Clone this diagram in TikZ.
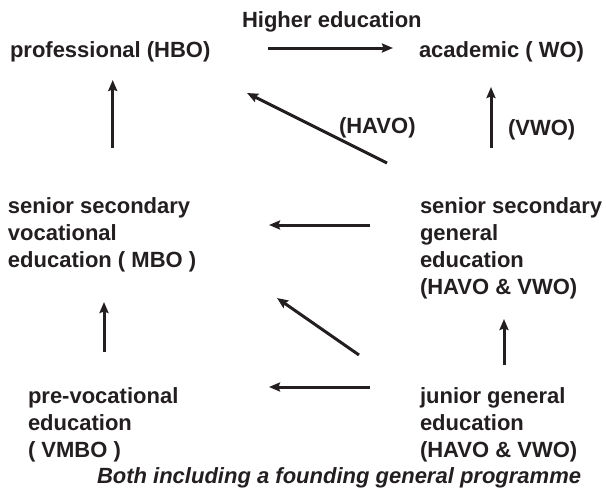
\documentclass[tikz,border=0pt]{standalone}
\usepackage{fontspec}
\setmainfont{Liberation Sans}
\usetikzlibrary{arrows.meta}
\definecolor{ink}{RGB}{35,31,32}
\newcommand{\stack}[1]{\vtop{\baselineskip=27pt\lineskiplimit=-20pt\halign{##\hfil\cr#1\crcr}}}
\tikzset{
  lbl/.style={anchor=base west, inner sep=0pt, outer sep=0pt, text=ink,
    font=\fontsize{22}{27}\selectfont\bfseries},
  arr/.style={draw=ink, line width=3pt,
    -{Stealth[length=11pt,width=9pt,inset=1.5pt]}},
}
\begin{document}
\begin{tikzpicture}[x=1pt,y=-1pt]
\useasboundingbox (0,0) rectangle (606,488);
% labels
\node[lbl] (higher) at (242,27) {Higher education};
\node[lbl] (hbo) at (10,57) {professional (HBO)};
\node[lbl] (wo) at (419,57) {academic ( WO)};
\node[lbl] (havo) at (339,133) {(HAVO)};
\node[lbl] (vwo) at (508,135) {(VWO)};
\node[lbl] (mbo) at (8,213) {\stack{senior secondary\cr vocational\cr education ( MBO )}};
\node[lbl] (ssge) at (420,213) {\stack{senior secondary\cr general\cr education\cr (HAVO \& VWO)}};
\node[lbl] (vmbo) at (28,403) {\stack{pre-vocational\cr education\cr ( VMBO )}};
\node[lbl] (jge) at (420,403) {\stack{junior general\cr education\cr (HAVO \& VWO)}};
\node[lbl, font=\fontsize{22}{27}\selectfont\bfseries\itshape] (foot) at (97,483) {Both including a founding general programme};
% connector end points
\coordinate (a1s) at (268,48);  \coordinate (a1e) at (393,48);
\coordinate (a2s) at (112.7,148); \coordinate (a2e) at (112.7,80);
\coordinate (a3s) at (491,148); \coordinate (a3e) at (491,87);
\coordinate (a4s) at (387,163); \coordinate (a4e) at (247,93);
\coordinate (a5s) at (370,225); \coordinate (a5e) at (269,225);
\coordinate (a6s) at (104,352); \coordinate (a6e) at (104,302);
\coordinate (a7s) at (359,355); \coordinate (a7e) at (277,298);
\coordinate (a8s) at (504,365); \coordinate (a8e) at (504,319);
\coordinate (a9s) at (370,387); \coordinate (a9e) at (269,387);
% connectors
\draw[arr] (a1s) -- (a1e);
\draw[arr] (a2s) -- (a2e);
\draw[arr] (a3s) -- (a3e);
\draw[arr] (a4s) -- (a4e);
\draw[arr] (a5s) -- (a5e);
\draw[arr] (a6s) -- (a6e);
\draw[arr] (a7s) -- (a7e);
\draw[arr] (a8s) -- (a8e);
\draw[arr] (a9s) -- (a9e);
\end{tikzpicture}
\end{document}
